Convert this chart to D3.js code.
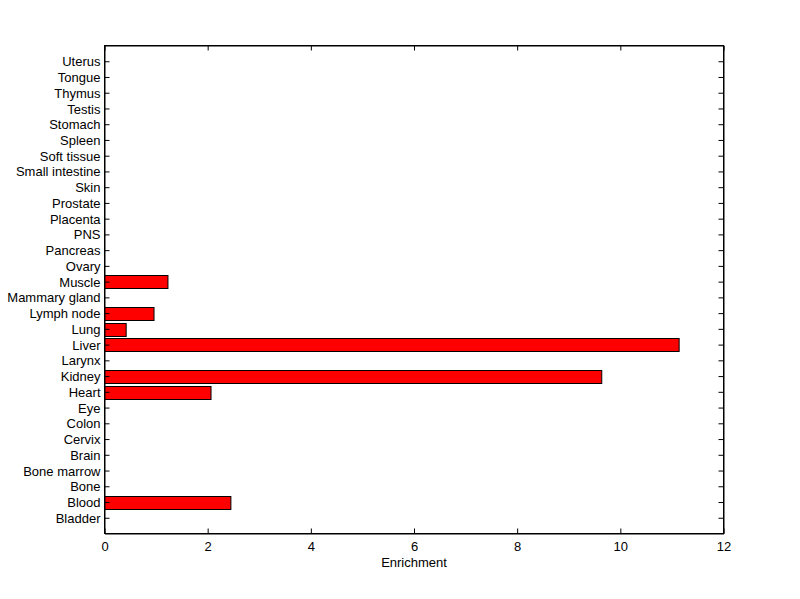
<!DOCTYPE html>
<html><head><meta charset="utf-8">
<script src="https://cdn.jsdelivr.net/npm/d3@7"></script>
<style>body{margin:0;background:#fff;} text{font-family:"Liberation Sans",Arial,sans-serif;font-size:13px;fill:#000;}</style>
</head><body>
<svg id="c" width="800" height="599"></svg>
<script>
const categories = ["Bladder","Blood","Bone","Bone marrow","Brain","Cervix","Colon","Eye","Heart","Kidney","Larynx","Liver","Lung","Lymph node","Mammary gland","Muscle","Ovary","Pancreas","PNS","Placenta","Prostate","Skin","Small intestine","Soft tissue","Spleen","Stomach","Testis","Thymus","Tongue","Uterus"];
const values = [0,2.45,0,0,0,0,0,0,2.065,9.64,0,11.14,0.42,0.96,0,1.23,0,0,0,0,0,0,0,0,0,0,0,0,0,0];
const xTicks = [0,2,4,6,8,10,12];
const xLabel = "Enrichment";

const svg = d3.select("#c");
const L=104.5, R=723.5, T=45.5, B=533.5;
const x = d3.scaleLinear().domain([0,12]).range([L,R]);
const y = d3.scaleLinear().domain([0,categories.length+1]).range([B,T]);
const bw = 0.8*(B-T)/(categories.length+1);

svg.append("rect").attr("x",L).attr("y",T).attr("width",R-L).attr("height",B-T).attr("fill","#fff");

const barData = categories.map((c,i)=>({c,v:values[i],i})).filter(d=>d.v>0);
svg.append("g").selectAll("rect").data(barData)
  .join("rect")
  .attr("x",x(0)).attr("y",d=>Math.round(y(d.i+1)-bw/2)+0.5)
  .attr("width",d=>x(d.v)-x(0)).attr("height",Math.round(bw))
  .attr("fill","#ff0000").attr("stroke","#000").attr("stroke-width",1);

const tl=5;
const gb = svg.append("g").attr("transform",`translate(0,${B})`)
  .call(d3.axisBottom(x).tickValues(xTicks).tickFormat(d3.format("d")).tickSizeInner(-tl).tickSizeOuter(0).tickPadding(8));
const gt = svg.append("g").attr("transform",`translate(0,${T})`)
  .call(d3.axisTop(x).tickValues(xTicks).tickFormat("").tickSizeInner(-tl).tickSizeOuter(0));
const yt = categories.map((c,i)=>i+1);
const gl = svg.append("g").attr("transform",`translate(${L},0)`)
  .call(d3.axisLeft(y).tickValues(yt).tickFormat((d)=>categories[d-1]).tickSizeInner(-tl).tickSizeOuter(0).tickPadding(4));
const gr = svg.append("g").attr("transform",`translate(${R},0)`)
  .call(d3.axisRight(y).tickValues(yt).tickFormat("").tickSizeInner(-tl).tickSizeOuter(0));
[gb,gt,gl,gr].forEach(g=>{g.selectAll("path,line").attr("stroke","#000");g.selectAll("text").attr("font-size",13).attr("font-family","Liberation Sans, Arial, sans-serif");});
gb.selectAll("text").attr("dy","0.71em");
gl.selectAll("text").attr("dy","0.35em");

svg.append("rect").attr("x",L).attr("y",T).attr("width",R-L).attr("height",B-T).attr("fill","none").attr("stroke","#000");

svg.append("text").attr("x",(L+R)/2).attr("y",567).attr("text-anchor","middle").text(xLabel);
</script>
</body></html>
